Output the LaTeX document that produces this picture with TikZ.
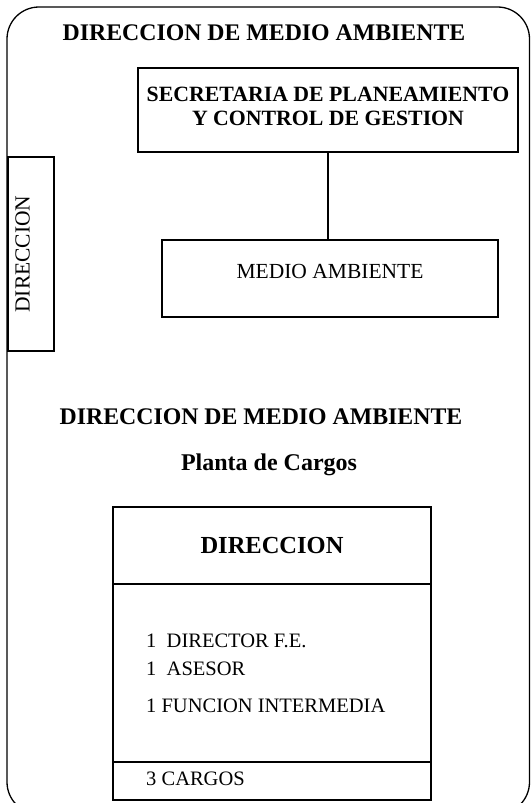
\documentclass[tikz,border=0pt]{standalone}
\usepackage{fontspec}
\setmainfont{Liberation Serif}
\usepackage{tikz}
\usetikzlibrary{positioning}
\tikzset{
    %Define style for unit boxes
    unitbox/.style={
           rectangle,
           draw=black, line width=1.2pt,
           inner sep=0pt,
           text centered},
    %Define style for the cells of the staff table
    cellbox/.style={
           rectangle,
           draw=black, line width=1.2pt,
           minimum width=318pt,
           outer sep=0pt,
           inner sep=0pt},
    % Define style for headings
    heading/.style={
           font=\fontsize{23.8}{26}\selectfont\bfseries},
    item/.style={
           anchor=west,
           inner sep=0pt,
           font=\fontsize{20.5}{22}\selectfont}
}
\begin{document}
\begin{tikzpicture}[x=1pt,y=-1pt]
\useasboundingbox (0,0) rectangle (531,803);
 %outer frame
\draw[line width=1.3pt, rounded corners=32pt] (7,7) rectangle (529.5,814);
 %nodes
\node[heading] (title) at (264,33) {DIRECCION DE MEDIO AMBIENTE};
\node[unitbox, minimum width=380pt, minimum height=84pt, align=center, text depth=8pt,
      font=\fontsize{21.8}{24}\selectfont\bfseries] (sec) at (328,110)
      {SECRETARIA DE PLANEAMIENTO\\Y CONTROL DE GESTION};
\node[unitbox, minimum width=336pt, minimum height=77pt, text depth=15pt,
      font=\fontsize{21.5}{22}\selectfont] (medio) at (330,278.5) {MEDIO AMBIENTE};
\node[unitbox, rotate=90, minimum width=194pt, minimum height=46pt, text depth=17pt,
      font=\fontsize{21.5}{22}\selectfont] (dir) at (31,254) {DIRECCION};
\node[heading] (title2) at (261,417) {DIRECCION DE MEDIO AMBIENTE};
\node[font=\fontsize{24}{26}\selectfont\bfseries] (planta) at (269,465) {Planta de Cargos};
 %staff table
\node[cellbox, minimum height=77pt, font=\fontsize{24.5}{26}\selectfont\bfseries,
      anchor=north] (head) at (272,507) {DIRECCION};
\node[cellbox, minimum height=178pt, below=0pt of head] (body) {};
\node[cellbox, minimum height=38pt, below=0pt of body] (foot) {};
\node[item] (item1) at (146,641) {1\ \ DIRECTOR F.E.};
\node[item] (item2) at (146,669) {1\ \ ASESOR};
\node[item] (item3) at (146,706) {1 FUNCION INTERMEDIA};
\node[item] (total) at (146,779) {3 CARGOS};
 %connector
\draw[line width=1.2pt] (sec.south) -- (sec.south |- medio.north);
\end{tikzpicture}
\end{document}
